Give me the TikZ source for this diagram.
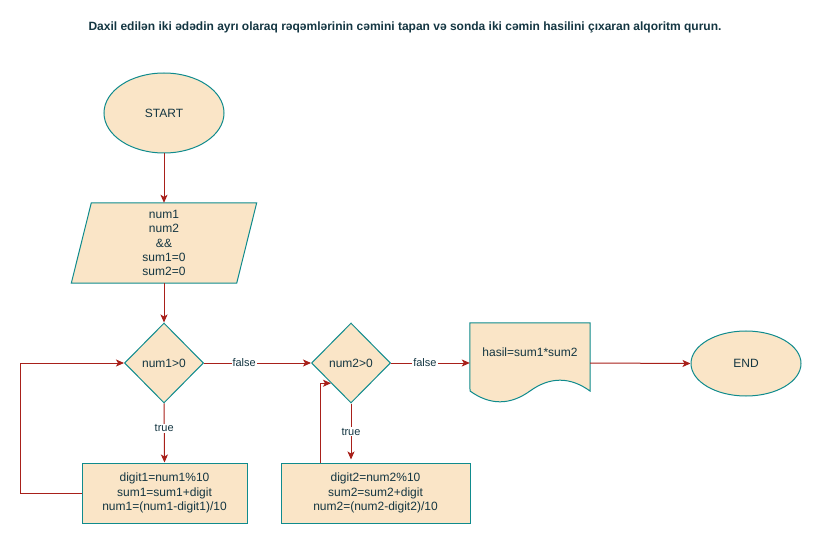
\documentclass[tikz,border=0pt]{standalone}
\usepackage{fontspec}
\setmainfont{Liberation Sans}
\usetikzlibrary{shapes.geometric,arrows.meta,calc}
\definecolor{fillc}{HTML}{FAE5C7}
\definecolor{strokec}{HTML}{0F8B8D}
\definecolor{fontc}{HTML}{143642}
\definecolor{edgec}{HTML}{A8201A}
\begin{document}
\begin{tikzpicture}[x=1pt,y=-1pt,
  every node/.style={text=fontc,font=\fontsize{12}{14.4}\selectfont,align=center},
  shapebox/.style={fill=fillc,draw=strokec,line width=1pt},
  termbox/.style={shapebox,ellipse,inner sep=0pt},
  decbox/.style={shapebox,diamond,inner sep=0pt,minimum width=79pt,minimum height=80pt},
  procbox/.style={shapebox,rectangle,inner sep=0pt},
  ghost/.style={rectangle,draw=none,inner sep=0pt},
  arr/.style={draw=edgec,line width=1pt,-{Stealth[length=8pt,width=7pt,inset=2pt]}},
  lbl/.style={fill=white,inner sep=1pt,font=\fontsize{11}{13}\selectfont}]
\useasboundingbox (0,0) rectangle (814,537);
\fill[white] (0,0) rectangle (814,537);

\node[font=\bfseries\fontsize{12}{14}\selectfont] (title) at (405,27) {Daxil edilən iki ədədin ayrı olaraq rəqəmlərinin cəmini tapan və sonda iki cəmin hasilini çıxaran alqoritm qurun.};

\node[termbox,minimum width=120pt,minimum height=80pt] (start) at (164,113) {START};

\node[ghost,minimum width=185pt,minimum height=80pt] (inp) at (164,243) {};
\draw[shapebox] ($(inp.north west)+(20,0)$) -- (inp.north east) -- ($(inp.south east)+(-20,0)$) -- (inp.south west) -- cycle;
\node at (inp) {num1\\num2\\\&\&\\sum1=0\\sum2=0};

\node[decbox] (d1) at (164,363) {num1>0};
\node[procbox,minimum width=165pt,minimum height=60pt] (box1) at (164.5,493) {digit1=num1\%10\\sum1=sum1+digit\\num1=(num1-digit1)/10};

\node[decbox] (d2) at (351,363) {num2>0};
\node[procbox,minimum width=189pt,minimum height=60pt] (box2) at (375.5,493) {digit2=num2\%10\\sum2=sum2+digit\\num2=(num2-digit2)/10};

\node[ghost,minimum width=120pt,minimum height=80pt] (doc) at (530,363) {};
\draw[shapebox] (doc.north west) -- (doc.north east) -- (590,391)
  .. controls (570,376.6) and (550,376.6) .. (530,391)
  .. controls (510,405.4) and (490,405.4) .. (470,391) -- cycle;
\node at (530,352) {hasil=sum1*sum2};

\node[termbox,minimum width=110pt,minimum height=65pt] (end) at (746,363.5) {END};

\draw[arr] (start) -- (inp.north);
\draw[arr] (inp.south) -- (d1.north);
\draw[arr] (d1.south) -- node[lbl,pos=0.42] {true} (box1.north);
\draw[arr] (box1.west) -- ++(-61,0) |- (d1.west);
\draw[arr] (d1.east) -- node[lbl,pos=0.375] {false} (d2.west);
\draw[arr] (d2.south) -- node[lbl,pos=0.5] {true} ($(box2.north -| d2.south)+(0,-3)$);
\draw[arr] ($(box2.north west)+(40,0)$) |- (d2.south west);
\draw[arr] (d2.east) -- node[lbl,pos=0.43] {false} (doc.west);
\draw[arr] (doc.east) -- (end.west);
\end{tikzpicture}
\end{document}
